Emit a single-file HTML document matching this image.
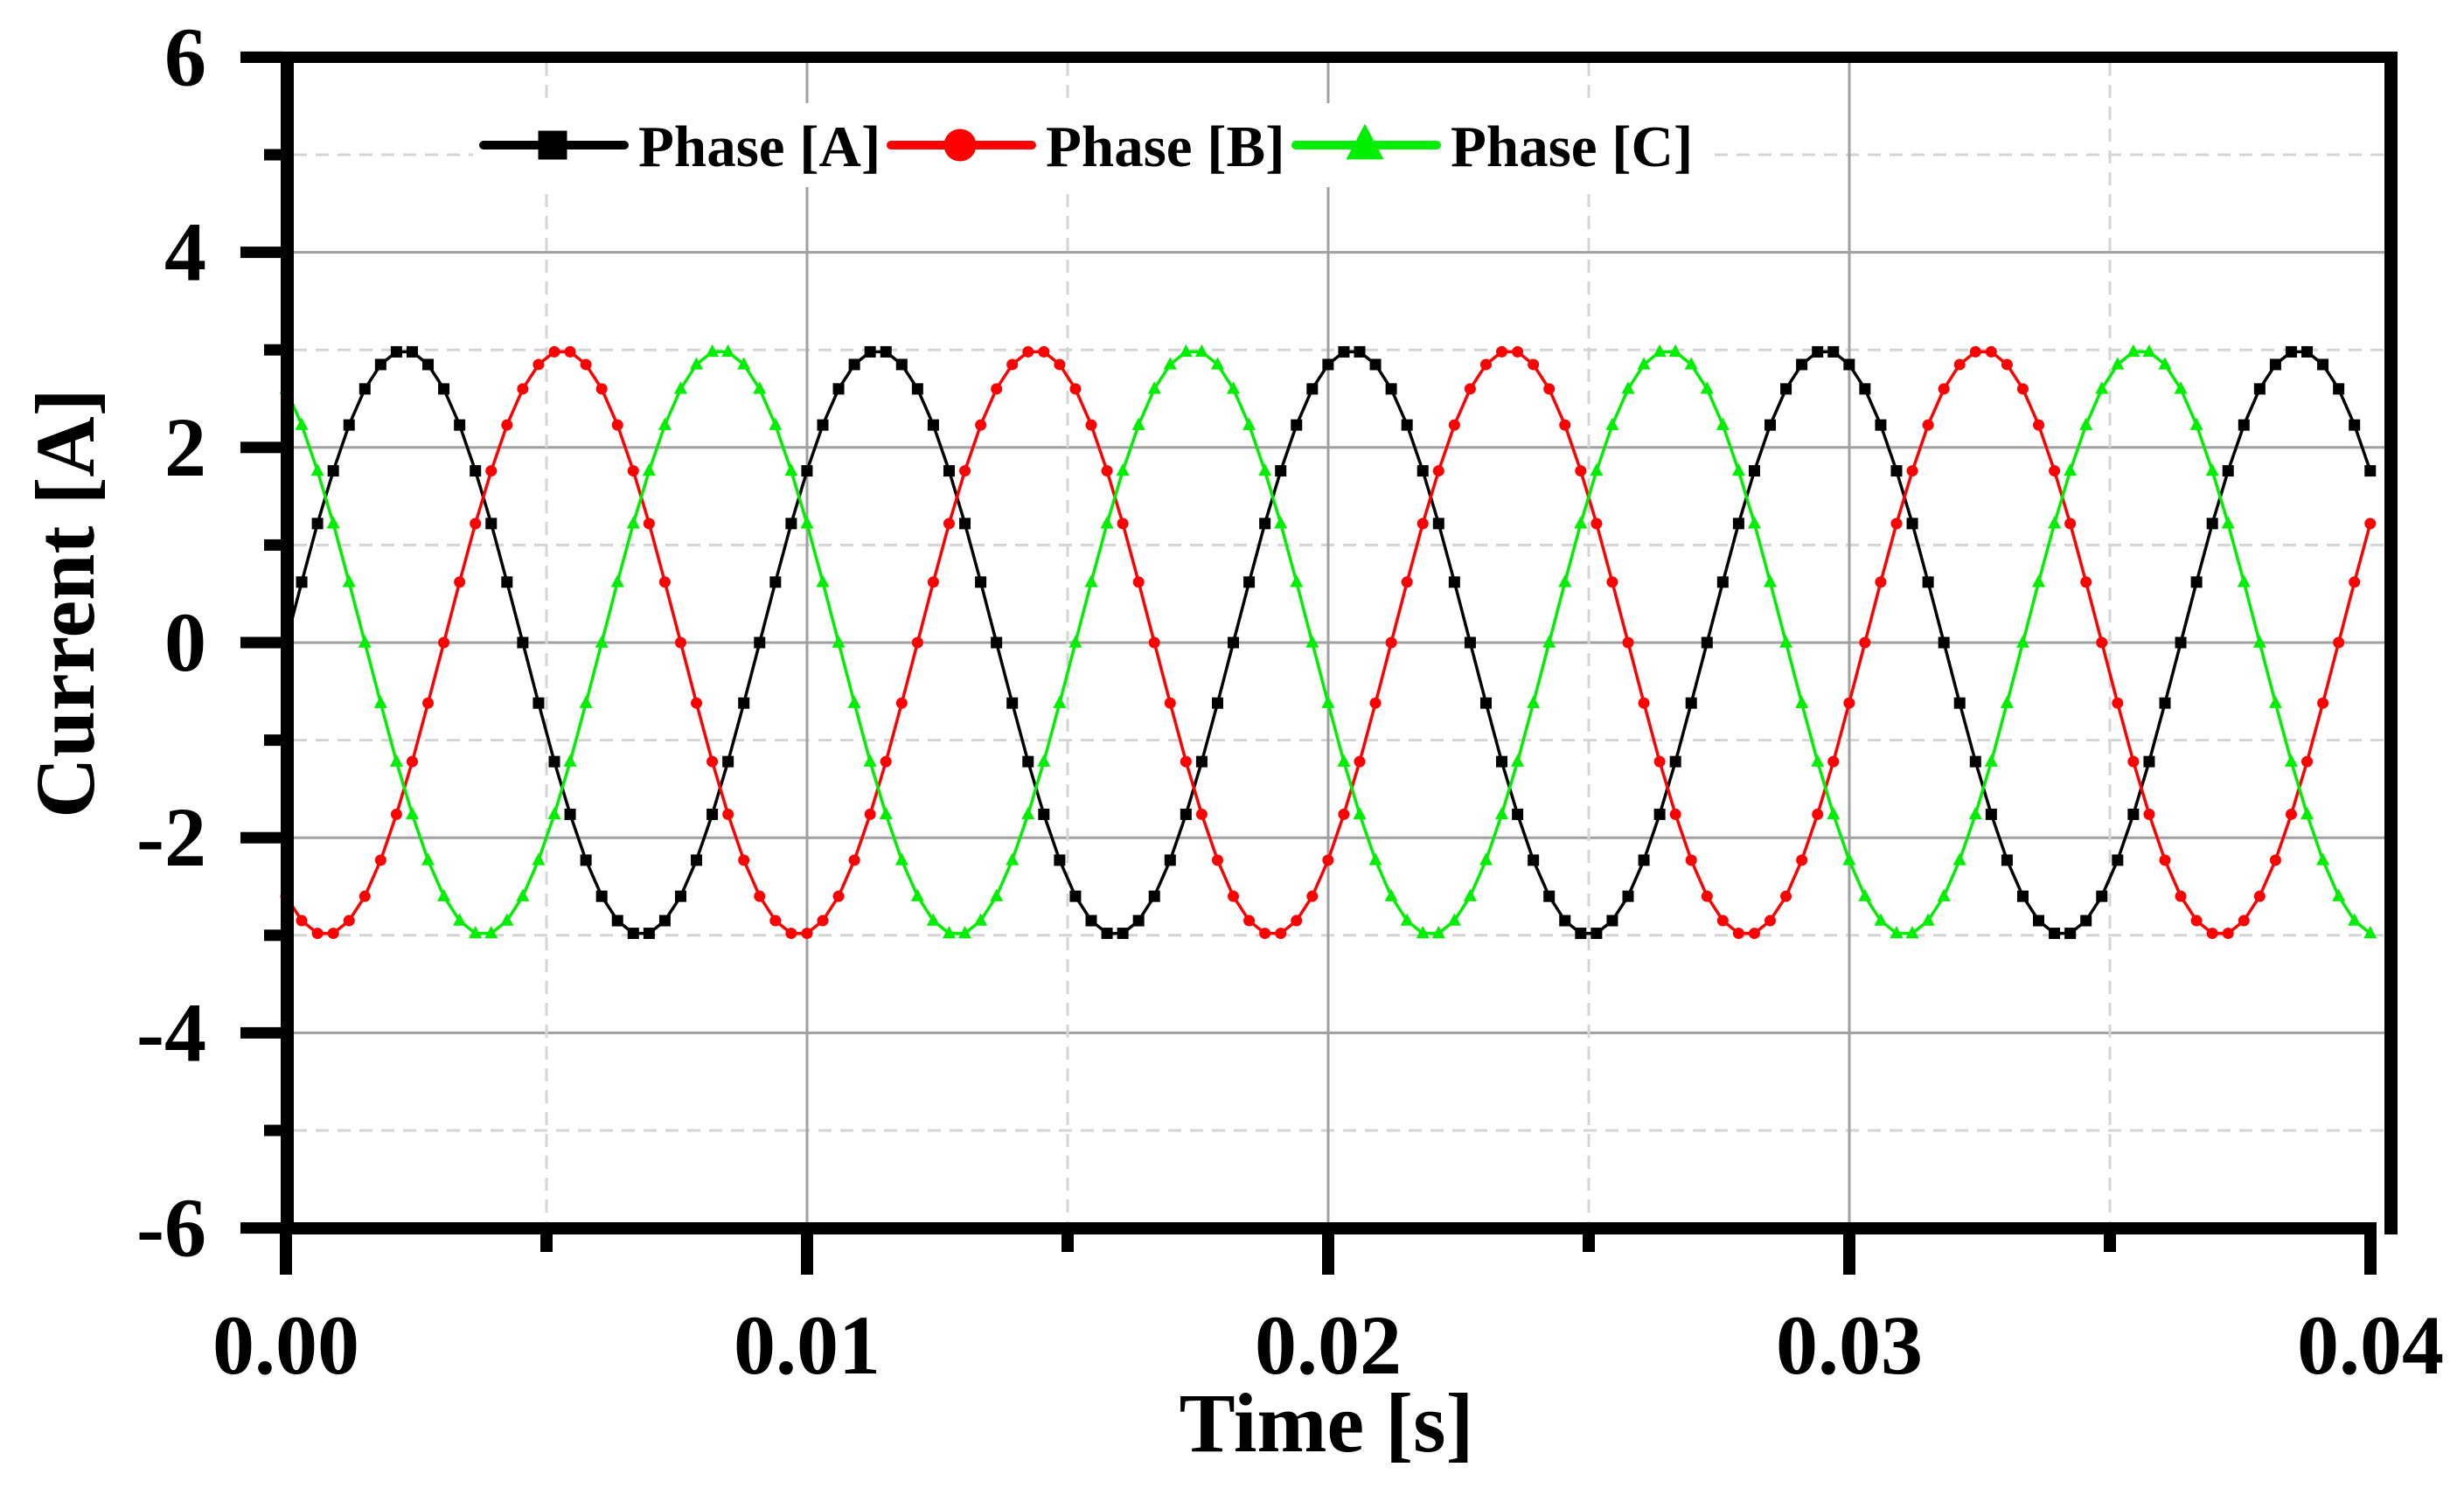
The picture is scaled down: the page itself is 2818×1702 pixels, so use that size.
<!DOCTYPE html>
<html><head><meta charset="utf-8"><style>
html,body{margin:0;padding:0;background:#fff;}
svg{display:block;}
text{font-family:"Liberation Serif",serif;font-weight:bold;fill:#000;}
</style></head><body>
<svg id="chart" width="2818" height="1702" viewBox="0 0 2818 1702" xmlns="http://www.w3.org/2000/svg">
<g id="grid"></g>
<g id="series"></g>
<g id="axes"></g>
<g id="legend"></g>
<text x="1517" y="1660" font-size="96" text-anchor="middle">Time [s]</text>
<text transform="translate(107,690) rotate(-90)" font-size="96" text-anchor="middle">Current [A]</text>
</svg>
<script>
const timeMs = [0,0.303,0.606,0.909,1.212,1.515,1.818,2.121,2.424,2.727,3.03,3.333,3.636,3.939,4.242,4.545,4.848,5.151,5.454,5.757,6.06,6.363,6.666,6.969,7.272,7.575,7.878,8.181,8.484,8.787,9.09,9.393,9.696,9.999,10.302,10.605,10.908,11.211,11.514,11.817,12.12,12.423,12.726,13.029,13.332,13.635,13.938,14.241,14.544,14.847,15.15,15.453,15.756,16.059,16.362,16.665,16.968,17.271,17.574,17.877,18.18,18.483,18.786,19.089,19.392,19.695,19.998,20.301,20.604,20.907,21.21,21.513,21.816,22.119,22.422,22.725,23.028,23.331,23.634,23.937,24.24,24.543,24.846,25.149,25.452,25.755,26.058,26.361,26.664,26.967,27.27,27.573,27.876,28.179,28.482,28.785,29.088,29.391,29.694,29.997,30.3,30.603,30.906,31.209,31.512,31.815,32.118,32.421,32.724,33.027,33.33,33.633,33.936,34.239,34.542,34.845,35.148,35.451,35.754,36.057,36.36,36.663,36.966,37.269,37.572,37.875,38.178,38.481,38.784,39.087,39.39,39.693,39.996];
const phaseA = [0,0.62,1.22,1.76,2.23,2.6,2.85,2.98,2.98,2.85,2.6,2.23,1.76,1.22,0.62,0,-0.62,-1.22,-1.76,-2.23,-2.6,-2.85,-2.98,-2.98,-2.85,-2.6,-2.23,-1.76,-1.22,-0.62,
0,0.62,1.22,1.76,2.23,2.6,2.85,2.98,2.98,2.85,2.6,2.23,1.76,1.22,0.62,0,-0.62,-1.22,-1.76,-2.23,-2.6,-2.85,-2.98,-2.98,-2.85,-2.6,-2.23,-1.76,-1.22,-0.62,
0,0.62,1.22,1.76,2.23,2.6,2.85,2.98,2.98,2.85,2.6,2.23,1.76,1.22,0.62,0,-0.62,-1.22,-1.76,-2.23,-2.6,-2.85,-2.98,-2.98,-2.85,-2.6,-2.23,-1.76,-1.22,-0.62,
0,0.62,1.22,1.76,2.23,2.6,2.85,2.98,2.98,2.85,2.6,2.23,1.76,1.22,0.62,0,-0.62,-1.22,-1.76,-2.23,-2.6,-2.85,-2.98,-2.98,-2.85,-2.6,-2.23,-1.76,-1.22,-0.62,
0,0.62,1.22,1.76,2.23,2.6,2.85,2.98,2.98,2.85,2.6,2.23,1.76];
const phaseB = [-2.6,-2.85,-2.98,-2.98,-2.85,-2.6,-2.23,-1.76,-1.22,-0.62,
0,0.62,1.22,1.76,2.23,2.6,2.85,2.98,2.98,2.85,2.6,2.23,1.76,1.22,0.62,0,-0.62,-1.22,-1.76,-2.23,-2.6,-2.85,-2.98,-2.98,-2.85,-2.6,-2.23,-1.76,-1.22,-0.62,
0,0.62,1.22,1.76,2.23,2.6,2.85,2.98,2.98,2.85,2.6,2.23,1.76,1.22,0.62,0,-0.62,-1.22,-1.76,-2.23,-2.6,-2.85,-2.98,-2.98,-2.85,-2.6,-2.23,-1.76,-1.22,-0.62,
0,0.62,1.22,1.76,2.23,2.6,2.85,2.98,2.98,2.85,2.6,2.23,1.76,1.22,0.62,0,-0.62,-1.22,-1.76,-2.23,-2.6,-2.85,-2.98,-2.98,-2.85,-2.6,-2.23,-1.76,-1.22,-0.62,
0,0.62,1.22,1.76,2.23,2.6,2.85,2.98,2.98,2.85,2.6,2.23,1.76,1.22,0.62,0,-0.62,-1.22,-1.76,-2.23,-2.6,-2.85,-2.98,-2.98,-2.85,-2.6,-2.23,-1.76,-1.22,-0.62,
0,0.62,1.22];
const phaseC = [2.6,2.23,1.76,1.22,0.62,0,-0.62,-1.22,-1.76,-2.23,-2.6,-2.85,-2.98,-2.98,-2.85,-2.6,-2.23,-1.76,-1.22,-0.62,
0,0.62,1.22,1.76,2.23,2.6,2.85,2.98,2.98,2.85,2.6,2.23,1.76,1.22,0.62,0,-0.62,-1.22,-1.76,-2.23,-2.6,-2.85,-2.98,-2.98,-2.85,-2.6,-2.23,-1.76,-1.22,-0.62,
0,0.62,1.22,1.76,2.23,2.6,2.85,2.98,2.98,2.85,2.6,2.23,1.76,1.22,0.62,0,-0.62,-1.22,-1.76,-2.23,-2.6,-2.85,-2.98,-2.98,-2.85,-2.6,-2.23,-1.76,-1.22,-0.62,
0,0.62,1.22,1.76,2.23,2.6,2.85,2.98,2.98,2.85,2.6,2.23,1.76,1.22,0.62,0,-0.62,-1.22,-1.76,-2.23,-2.6,-2.85,-2.98,-2.98,-2.85,-2.6,-2.23,-1.76,-1.22,-0.62,
0,0.62,1.22,1.76,2.23,2.6,2.85,2.98,2.98,2.85,2.6,2.23,1.76,1.22,0.62,0,-0.62,-1.22,-1.76,-2.23,-2.6,-2.85,-2.98];
const xTickValues = [0, 0.01, 0.02, 0.03, 0.04];
const xTickLabels = ["0.00", "0.01", "0.02", "0.03", "0.04"];
const xMinorValues = [0.005, 0.015, 0.025, 0.035];
const yTickValues = [6, 4, 2, 0, -2, -4, -6];
const yTickLabels = ["6", "4", "2", "0", "-2", "-4", "-6"];
const yMinorValues = [5, 3, 1, -1, -3, -5];
const seriesNames = ["Phase [A]", "Phase [B]", "Phase [C]"];

const NS = "http://www.w3.org/2000/svg";
const X0 = 327, X1 = 2711, Y0 = 735, YU = 111.6;
function xs(sec) { return X0 + (sec / 0.04) * (X1 - X0); }
function xms(ms) { return xs(ms / 1000); }
function ys(v) { return Y0 - v * YU; }
function mk(tag, attrs, parent) {
  const e = document.createElementNS(NS, tag);
  for (const k in attrs) e.setAttribute(k, attrs[k]);
  parent.appendChild(e);
  return e;
}
const grid = document.getElementById('grid');
const axes = document.getElementById('axes');
const series = document.getElementById('series');
const legend = document.getElementById('legend');
const PL = 336, PR = 2727, PT = 72, PB = 1398;

// grid
yTickValues.forEach(v => {
  if (v === 6 || v === -6) return;
  const l = mk('line', {x1: PL, x2: PR, y1: ys(v), y2: ys(v), stroke: '#a0a0a0', 'stroke-width': 3}, grid);
  
  
});
yMinorValues.forEach(v => {
  const l = mk('line', {x1: PL, x2: PR, y1: ys(v), y2: ys(v), stroke: '#d4d4d4', 'stroke-width': 3, 'stroke-dasharray': '15 10'}, grid);
  
  
});
xTickValues.forEach(v => {
  if (v === 0 || v === 0.04) return;
  const l = mk('line', {x1: xs(v), x2: xs(v), y1: PT, y2: PB, stroke: '#a0a0a0', 'stroke-width': 3}, grid);
  
  
});
xMinorValues.forEach(v => {
  const l = mk('line', {x1: xs(v), x2: xs(v), y1: PT, y2: PB, stroke: '#d4d4d4', 'stroke-width': 3, 'stroke-dasharray': '15 10'}, grid);
  
  
});

// series
const defs = [
  {vals: phaseA, color: '#000000', marker: 'square', name: 'phase-a'},
  {vals: phaseB, color: '#ff0000', marker: 'circle', name: 'phase-b'},
  {vals: phaseC, color: '#00ee00', marker: 'triangle', name: 'phase-c'}
];
function drawMarker(type, cx, cy, color, size, parent) {
  let m;
  if (type === 'square') m = mk('rect', {x: cx - size/2, y: cy - size/2, width: size, height: size, fill: color}, parent);
  else if (type === 'circle') m = mk('circle', {cx: cx, cy: cy, r: size/2, fill: color}, parent);
  else {
    const h = size * 0.95;
    m = mk('polygon', {points: `${cx},${cy - h*0.6} ${cx - size/2},${cy + h*0.4} ${cx + size/2},${cy + h*0.4}`, fill: color}, parent);
  }
  return m;
}
defs.forEach(d => {
  const g = mk('g', {}, series);
  
  
  const pts = d.vals.map((v, i) => xms(timeMs[i]).toFixed(1) + ',' + ys(v).toFixed(1)).join(' ');
  const pl = mk('polyline', {points: pts, fill: 'none', stroke: d.color, 'stroke-width': 3.5, 'stroke-linejoin': 'round'}, g);
  
  
  d.vals.forEach((v, i) => {
    const m = drawMarker(d.marker, xms(timeMs[i]), ys(v), d.color, d.marker === 'triangle' ? 15 : 13, g);
    
    
  });
});

// axes frame
function rect(x, y, w, h, name) {
  const r = mk('rect', {x: x, y: y, width: w, height: h, fill: '#000'}, axes);
  
  
}
rect(275, 59, 2467, 13, 'top-frame');
rect(321, 59, 15, 1353, 'y-axis-line');
rect(2727, 59, 15, 1353, 'right-frame');
rect(321, 1398, 2397, 14, 'x-axis-line');
yTickValues.forEach((v, i) => {
  rect(275, ys(v) - 6.5, 48, 13, 'y-tick');
  const t = mk('text', {x: 236, y: ys(v) + 32, 'font-size': 96, 'text-anchor': 'end'}, axes);
  t.textContent = yTickLabels[i];
  
  
});
yMinorValues.forEach(v => rect(302, ys(v) - 6.5, 20, 13, 'y-minor-tick'));
xTickValues.forEach((v, i) => {
  rect(xs(v) - 7, 1398, 14, 60, 'x-tick');
  const t = mk('text', {x: xs(v), y: 1571, 'font-size': 96, 'text-anchor': 'middle'}, axes);
  t.textContent = xTickLabels[i];
  
  
});
xMinorValues.forEach(v => rect(xs(v) - 7, 1398, 14, 34, 'x-minor-tick'));

// legend
const bg = mk('rect', {x: 541, y: 118, width: 1414, height: 96, fill: '#fff'}, legend);


const legendStarts = [548, 1014, 1477];
const legendMarkerSizes = [33, 37, 43];
defs.forEach((d, i) => {
  const g = mk('g', {}, legend);
  
  
  const x = legendStarts[i], cy = 166;
  mk('line', {x1: x + 5, x2: x + 166, y1: cy, y2: cy, stroke: d.color, 'stroke-width': 10, 'stroke-linecap': 'round'}, g);
  drawMarker(d.marker, x + 84, cy, d.color, legendMarkerSizes[i], g);
  const t = mk('text', {x: x + 182, y: 190, 'font-size': 67}, g);
  t.textContent = seriesNames[i];
  
  
});
</script>
</body></html>
